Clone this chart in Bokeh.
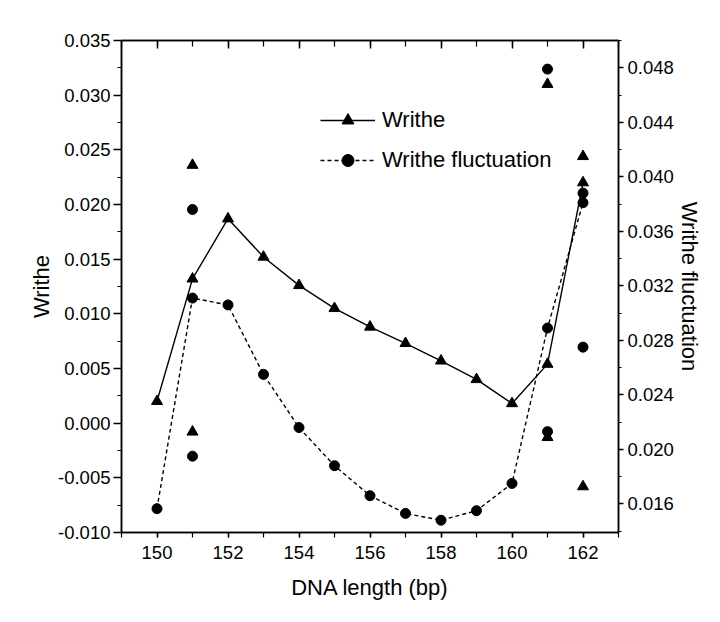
from bokeh.plotting import figure
from bokeh.models import (Range1d, LinearAxis, SingleIntervalTicker, NumeralTickFormatter,
                          CustomJSTickFormatter, Legend, LegendItem)
from bokeh.embed import file_html
from bokeh.resources import INLINE

# ---- data ----
dna_length = [150, 151, 152, 153, 154, 155, 156, 157, 158, 159, 160, 161, 162]
writhe = [0.0020, 0.0132, 0.0187, 0.0152, 0.0126, 0.0105, 0.0088, 0.0073, 0.0057, 0.0040, 0.0018, 0.0054, 0.0220]
writhe_fluct = [0.01565, 0.0311, 0.0306, 0.0255, 0.0216, 0.0188, 0.0166, 0.0153, 0.0148, 0.0155, 0.0175, 0.0289, 0.0381]

extra_x = [151, 151, 161, 161, 162, 162]
extra_writhe = [0.0236, -0.0008, 0.0310, -0.0013, 0.0244, -0.0058]
extra_fluct = [0.0376, 0.0195, 0.0479, 0.0213, 0.0388, 0.0275]

FONT = "Liberation Sans"
TICK_FS = "18.5px"
LABEL_FS = "22px"

p = figure(width=712, height=614, output_backend="svg", toolbar_location=None,
           x_range=Range1d(149, 163), y_range=Range1d(-0.010, 0.035),
           min_border_left=121, min_border_right=94, min_border_top=40, min_border_bottom=82)
p.extra_y_ranges = {"fluct": Range1d(0.0139, 0.0500)}
p.grid.visible = False
p.outline_line_color = "black"
p.outline_line_width = 1.5
p.background_fill_color = "white"
p.border_fill_color = "white"

def style_axis(ax):
    ax.axis_line_width = 1.5
    ax.major_tick_line_width = 1.5
    ax.minor_tick_line_width = 1.2
    ax.major_label_text_font = FONT
    ax.major_label_text_font_size = TICK_FS
    ax.major_label_text_color = "black"
    ax.axis_label_text_font = FONT
    ax.axis_label_text_font_size = LABEL_FS
    ax.axis_label_text_font_style = "normal"
    ax.axis_label_text_color = "black"

# bottom axis
xa = p.xaxis[0]
xa.ticker = SingleIntervalTicker(interval=2, num_minor_ticks=2)
xa.axis_label = "DNA length (bp)"
style_axis(xa)
xa.major_tick_out = 5; xa.major_tick_in = 0
xa.minor_tick_out = 5; xa.minor_tick_in = 0
xa.major_label_standoff = 8
xa.axis_label_standoff = 13

# left axis
ya = p.yaxis[0]
ya.ticker = SingleIntervalTicker(interval=0.005, num_minor_ticks=2)
ya.formatter = NumeralTickFormatter(format="0.000")
ya.axis_label = "Writhe"
style_axis(ya)
ya.major_tick_out = 8; ya.major_tick_in = 0
ya.minor_tick_out = 4; ya.minor_tick_in = 0
ya.major_label_standoff = 3
ya.axis_label_standoff = 1

# right axis
ra = LinearAxis(y_range_name="fluct", axis_label="Writhe fluctuation",
                ticker=SingleIntervalTicker(interval=0.004, num_minor_ticks=2),
                formatter=NumeralTickFormatter(format="0.000"))
style_axis(ra)
ra.major_tick_out = 5; ra.major_tick_in = 0
ra.minor_tick_out = 3; ra.minor_tick_in = 0
ra.major_label_standoff = 4
ra.axis_label_standoff = 0
p.add_layout(ra, "right")

# top axis (ticks only)
ta = LinearAxis(ticker=SingleIntervalTicker(interval=2, num_minor_ticks=2),
                formatter=CustomJSTickFormatter(code="return ''"))
style_axis(ta)
ta.major_tick_out = 0; ta.major_tick_in = 8
ta.minor_tick_out = 0; ta.minor_tick_in = 6
p.add_layout(ta, "above")

# series
lw = p.line(dna_length, writhe, line_color="black", line_width=1.4)
sw = p.scatter(dna_length, writhe, marker="triangle", size=11, color="black")
lf = p.line(dna_length, writhe_fluct, line_color="black", line_width=1.4, line_dash="4 3",
            y_range_name="fluct")
sf = p.scatter(dna_length, writhe_fluct, marker="circle", size=10, color="black",
               y_range_name="fluct")
p.scatter(extra_x, extra_writhe, marker="triangle", size=11, color="black")
p.scatter(extra_x, extra_fluct, marker="circle", size=10, color="black", y_range_name="fluct")

legend = Legend(items=[LegendItem(label="Writhe", renderers=[lw, sw]),
                       LegendItem(label="Writhe fluctuation", renderers=[lf, sf])],
                location=(199, 357), glyph_width=55, glyph_height=30, label_height=30,
                spacing=10, padding=0, margin=0, border_line_color=None,
                background_fill_alpha=0, label_standoff=7,
                label_text_font=FONT, label_text_font_size="22px", label_text_color="black")
p.add_layout(legend)

open("out.html", "w").write(file_html(p, INLINE))
